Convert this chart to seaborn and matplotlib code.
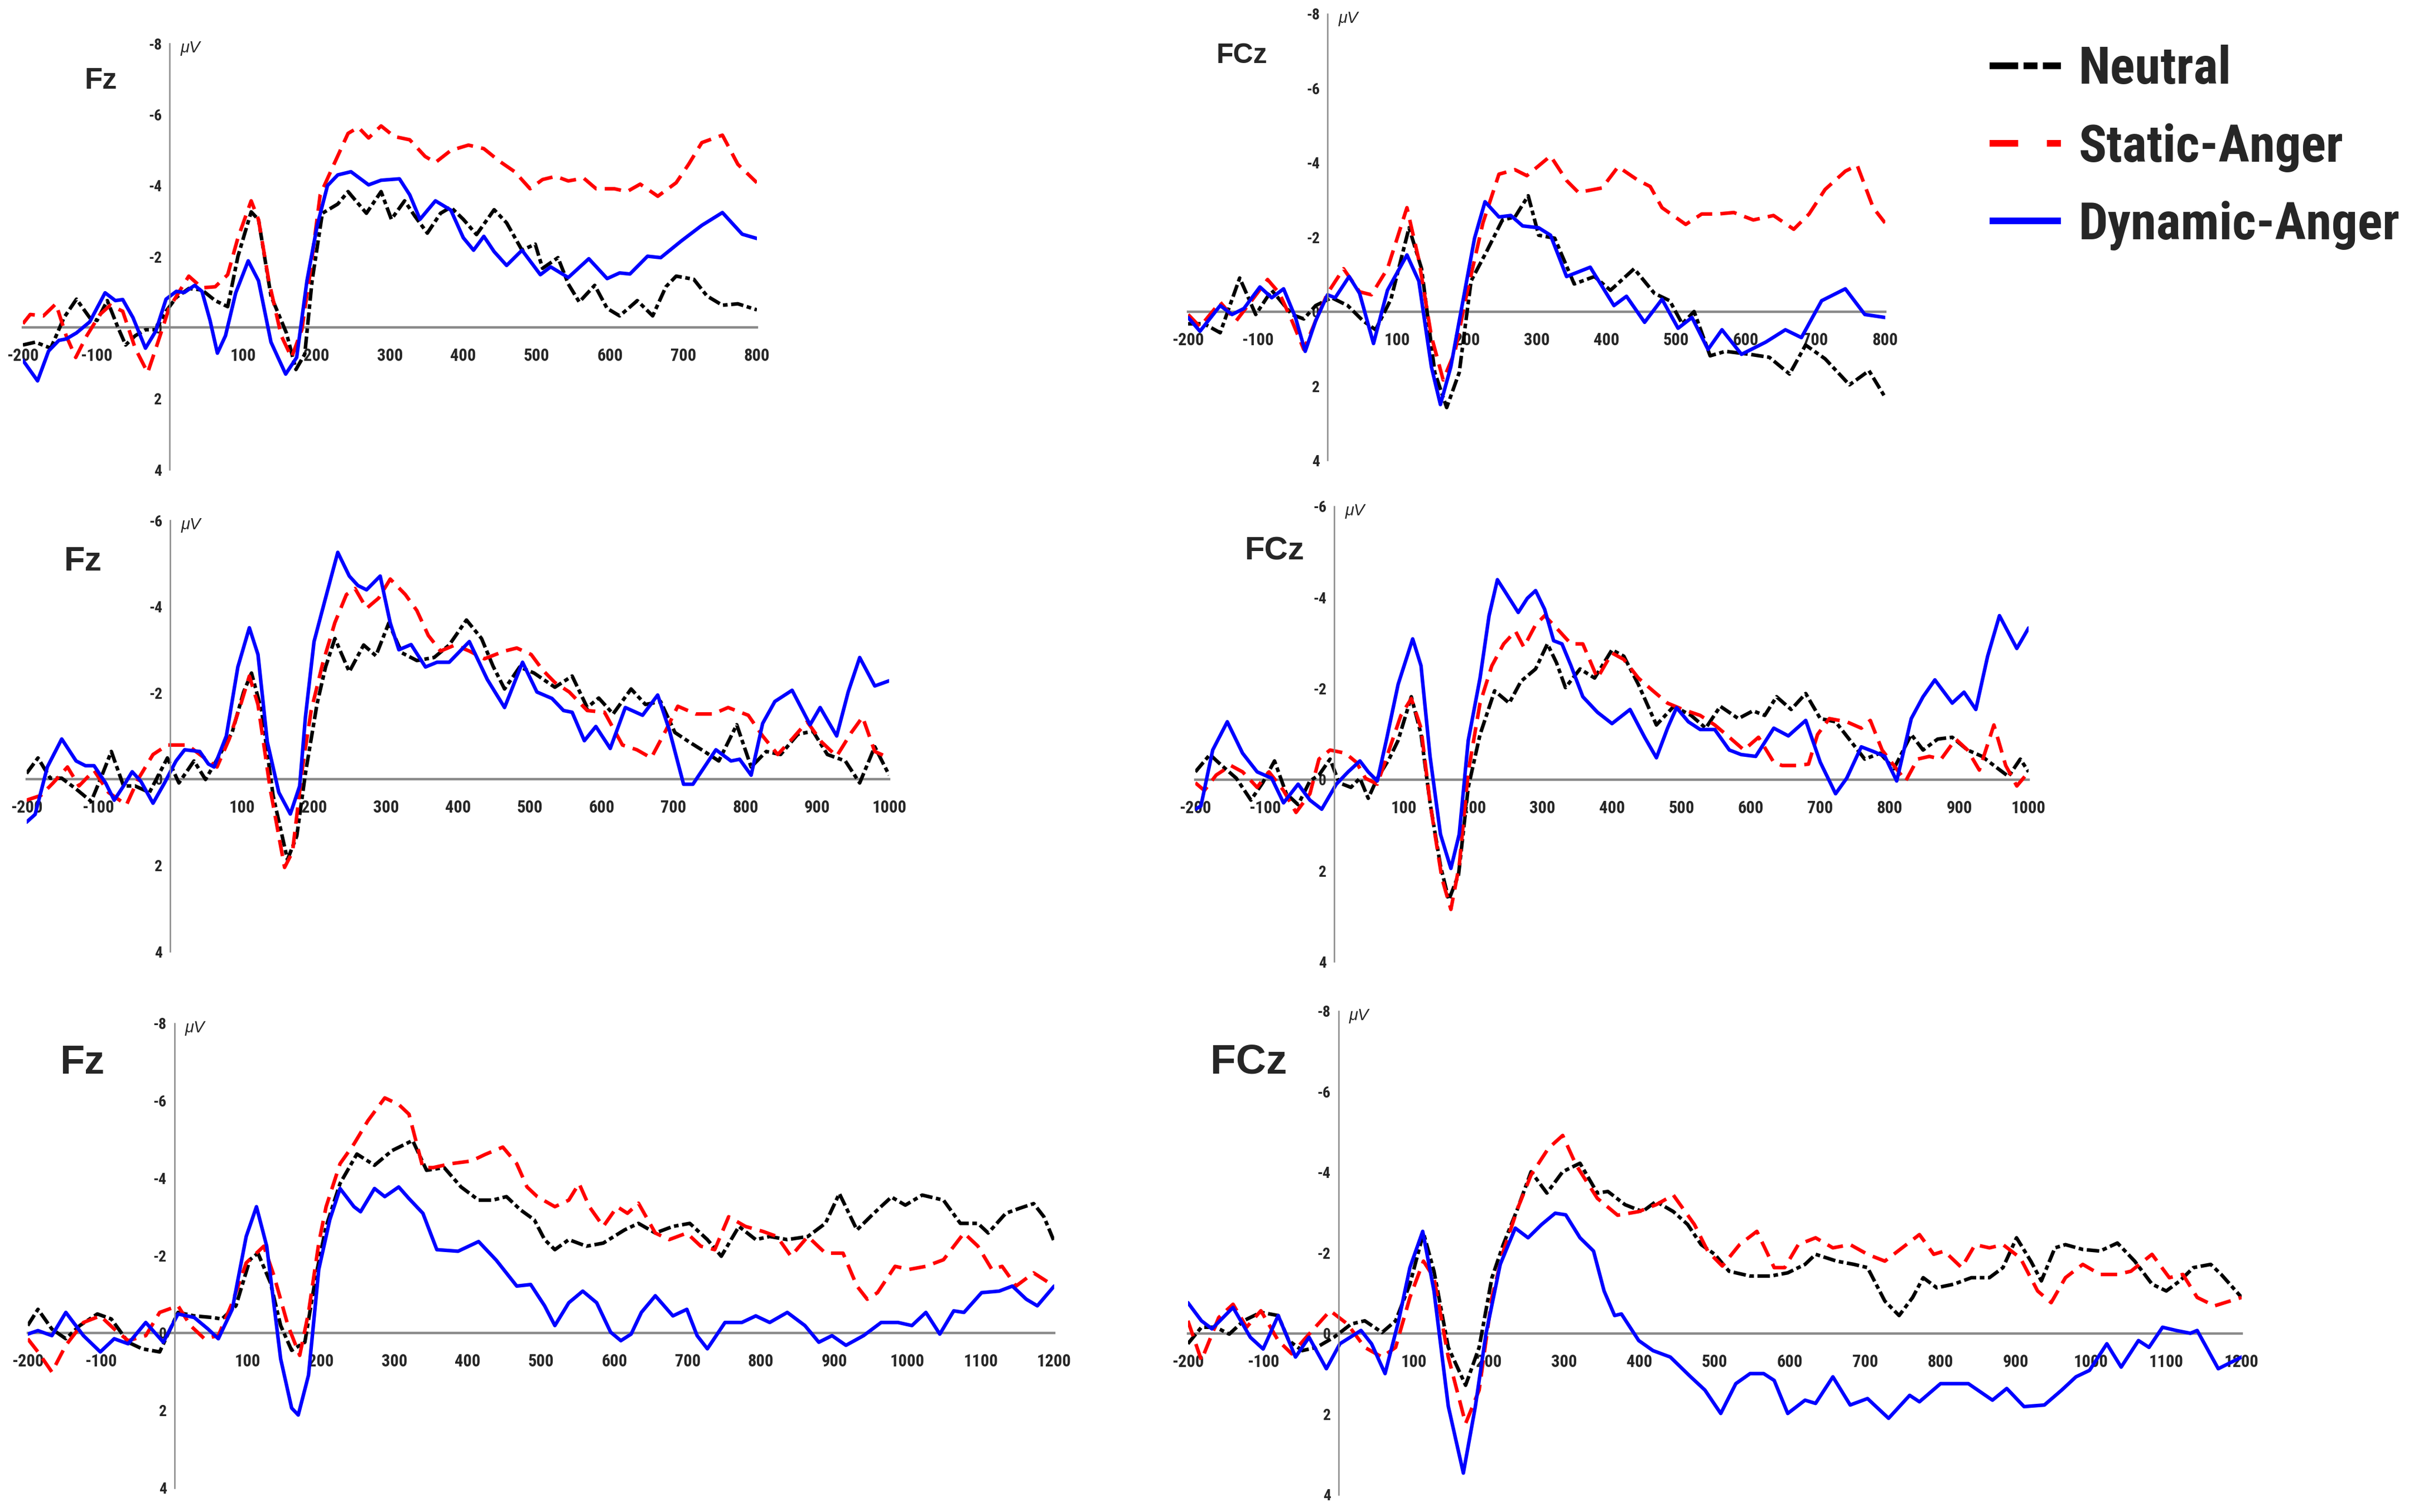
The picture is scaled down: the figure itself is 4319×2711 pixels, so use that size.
import matplotlib
matplotlib.use("Agg")
import matplotlib.pyplot as plt
from matplotlib import font_manager
from matplotlib.lines import Line2D
import seaborn as sns
import pandas as pd

# ERP waveforms: (time in ms, amplitude in microvolts)
# top row, Fz
FZ1_NEUTRAL = [(-200,0.49),(-183,0.41),(-162,0.58),(-144,-0.28),(-127,-0.80),(-109,-0.28),(-99,-0.20),(-85,-0.76),(-71,-0.03),(-60,0.49),(-47,0.23),(-33,0.06),(-19,0.06),(-5,-0.46),(9,-0.85),(26,-1.10),(44,-1.06),(62,-0.76),(79,-0.59),(93,-2.01),(111,-3.26),(121,-3.04),(138,-0.89),(159,0.15),(172,1.18),(184,0.75),(194,-1.32),(208,-3.22),(229,-3.48),(243,-3.83),(268,-3.22),(288,-3.83),(302,-3.05),(320,-3.57),(334,-3.14),(351,-2.66),(369,-3.22),(383,-3.39),(400,-3.05),(418,-2.62),(442,-3.32),(459,-2.95),(480,-2.18),(498,-2.35),(508,-1.67),(529,-1.97),(543,-1.23),(558,-0.72),(579,-1.19),(596,-0.54),(613,-0.33),(637,-0.76),(658,-0.33),(676,-1.15),(690,-1.45),(714,-1.36),(732,-0.89),(753,-0.63),(774,-0.67),(800,-0.50)]
FZ1_STATIC = [(-200,-0.11),(-190,-0.37),(-172,-0.33),(-155,-0.67),(-141,0.23),(-128,0.84),(-113,0.23),(-95,-0.37),(-81,-0.63),(-64,-0.46),(-47,0.58),(-30,1.27),(-16,0.41),(-1,-0.54),(12,-0.98),(26,-1.45),(44,-1.12),(62,-1.15),(79,-1.49),(93,-2.53),(111,-3.57),(121,-3.04),(135,-1.32),(152,0.23),(166,0.84),(180,0.06),(191,-1.49),(205,-3.74),(222,-4.52),(243,-5.47),(257,-5.64),(271,-5.34),(288,-5.68),(306,-5.38),(327,-5.29),(348,-4.82),(362,-4.65),(383,-4.99),(407,-5.14),(428,-5.04),(449,-4.69),(470,-4.39),(491,-3.91),(508,-4.17),(526,-4.26),(543,-4.13),(564,-4.21),(581,-3.91),(606,-3.91),(623,-3.83),(641,-4.04),(665,-3.70),(690,-4.08),(707,-4.60),(725,-5.21),(753,-5.42),(774,-4.60),(800,-4.08)]
FZ1_DYNAMIC = [(-200,0.92),(-180,1.50),(-165,0.66),(-151,0.36),(-141,0.32),(-127,0.15),(-109,-0.16),(-88,-0.98),(-74,-0.76),(-64,-0.79),(-50,-0.28),(-33,0.58),(-19,0.10),(-5,-0.80),(9,-1.02),(20,-0.99),(34,-1.19),(44,-1.02),(55,-0.20),(65,0.72),(76,0.23),(90,-0.98),(107,-1.88),(121,-1.32),(138,0.41),(158,1.31),(173,0.84),(187,-1.32),(201,-2.88),(215,-4.00),(229,-4.30),(247,-4.39),(271,-4.02),(288,-4.15),(313,-4.19),(327,-3.74),(341,-3.05),(362,-3.57),(383,-3.31),(400,-2.53),(414,-2.18),(428,-2.57),(442,-2.14),(459,-1.75),(480,-2.18),(505,-1.49),(519,-1.71),(543,-1.41),(571,-1.94),(596,-1.38),(613,-1.54),(627,-1.51),(651,-2.01),(669,-1.97),(697,-2.44),(725,-2.88),(753,-3.24),(780,-2.63),(800,-2.51)]

# top row, FCz
FCZ1_NEUTRAL = [(-200,0.33),(-177,0.33),(-154,0.57),(-126,-0.90),(-103,0.08),(-80,-0.57),(-51,0.08),(-34,0.20),(-17,-0.16),(6,-0.37),(29,-0.16),(51,0.25),(69,0.49),(91,-0.33),(117,-2.25),(135,-1.15),(154,1.64),(171,2.58),(189,1.64),(206,-0.82),(229,-1.64),(251,-2.46),(269,-2.54),(288,-3.11),(303,-2.05),(326,-1.97),(354,-0.74),(383,-0.94),(406,-0.57),(440,-1.15),(469,-0.49),(491,-0.29),(509,0.33),(526,0.00),(549,1.19),(571,1.07),(606,1.15),(634,1.23),(663,1.68),(686,0.90),(714,1.27),(749,1.97),(777,1.59),(800,2.30)]
FCZ1_STATIC = [(-200,0.08),(-183,0.41),(-154,-0.25),(-131,0.25),(-109,-0.29),(-86,-0.86),(-69,-0.49),(-51,0.25),(-34,1.02),(-17,0.25),(0,-0.49),(23,-1.15),(46,-0.53),(63,-0.45),(86,-1.15),(114,-2.79),(131,-1.39),(149,0.66),(166,1.84),(183,1.07),(200,-0.49),(223,-2.38),(246,-3.69),(269,-3.81),(286,-3.65),(320,-4.18),(343,-3.52),(360,-3.20),(394,-3.32),(417,-3.89),(446,-3.52),(463,-3.36),(480,-2.79),(514,-2.34),(537,-2.62),(560,-2.62),(583,-2.66),(611,-2.46),(640,-2.58),(669,-2.21),(691,-2.62),(714,-3.28),(743,-3.77),(760,-3.93),(783,-2.79),(800,-2.38)]
FCZ1_DYNAMIC = [(-200,0.16),(-183,0.53),(-154,-0.16),(-137,0.08),(-120,-0.08),(-97,-0.66),(-80,-0.37),(-63,-0.61),(-46,0.16),(-32,1.07),(-17,0.25),(0,-0.45),(11,-0.37),(31,-0.94),(46,-0.49),(66,0.86),(86,-0.57),(114,-1.52),(131,-0.82),(149,1.48),(162,2.50),(177,1.48),(194,-0.25),(211,-1.97),(226,-2.95),(246,-2.54),(263,-2.58),(280,-2.30),(303,-2.25),(320,-2.05),(343,-0.94),(377,-1.19),(411,-0.16),(429,-0.41),(455,0.29),(480,-0.33),(503,0.45),(523,0.16),(546,1.02),(566,0.49),(594,1.15),(629,0.82),(657,0.49),(680,0.70),(709,-0.29),(743,-0.61),(771,0.08),(800,0.16)]

# middle row, Fz
FZ2_NEUTRAL = [(-200,-0.13),(-184,-0.49),(-167,-0.02),(-151,-0.02),(-131,0.23),(-110,0.52),(-94,-0.13),(-82,-0.64),(-65,0.16),(-49,0.16),(-29,0.31),(-4,-0.49),(12,0.09),(33,-0.42),(49,0.01),(69,-0.57),(86,-1.08),(102,-2.02),(113,-2.46),(127,-1.59),(143,0.38),(163,1.87),(176,1.32),(188,-0.13),(204,-1.73),(216,-2.60),(229,-3.26),(249,-2.49),(269,-3.11),(286,-2.86),(304,-3.62),(322,-2.93),(343,-2.75),(367,-2.82),(388,-3.11),(412,-3.69),(433,-3.26),(449,-2.62),(465,-2.09),(486,-2.60),(506,-2.46),(535,-2.13),(559,-2.39),(580,-1.66),(596,-1.88),(616,-1.51),(641,-2.09),(661,-1.73),(682,-1.80),(702,-1.08),(722,-0.86),(743,-0.64),(763,-0.42),(788,-1.26),(808,-0.28),(829,-0.64),(849,-0.57),(873,-1.04),(894,-1.11),(914,-0.57),(939,-0.42),(959,0.09),(980,-0.75),(1000,-0.09)]
FZ2_STATIC = [(-200,0.49),(-180,0.38),(-163,0.09),(-143,-0.28),(-127,0.16),(-106,-0.20),(-86,0.31),(-61,0.60),(-45,0.01),(-24,-0.57),(-4,-0.79),(24,-0.79),(41,-0.57),(65,-0.28),(82,-0.93),(98,-1.73),(110,-2.39),(122,-1.73),(139,0.23),(159,2.05),(170,1.69),(184,-0.28),(196,-1.59),(212,-2.68),(229,-3.63),(245,-4.28),(257,-4.42),(273,-3.96),(290,-4.20),(306,-4.64),(327,-4.28),(343,-3.91),(359,-3.33),(376,-2.97),(396,-3.11),(416,-2.97),(437,-2.79),(465,-2.97),(482,-3.04),(502,-2.89),(518,-2.53),(535,-2.24),(555,-2.02),(580,-1.59),(604,-1.55),(629,-0.79),(649,-0.68),(669,-0.49),(690,-1.15),(706,-1.69),(731,-1.51),(755,-1.51),(776,-1.66),(804,-1.48),(824,-1.00),(845,-0.57),(865,-0.93),(886,-1.33),(906,-0.86),(927,-0.53),(947,-1.07),(963,-1.44),(980,-0.64),(1000,-0.49)]
FZ2_DYNAMIC = [(-200,1.00),(-188,0.82),(-171,-0.28),(-151,-0.93),(-131,-0.42),(-118,-0.31),(-106,-0.31),(-90,0.09),(-78,0.49),(-65,0.16),(-53,-0.17),(-41,0.05),(-24,0.56),(-8,0.09),(8,-0.42),(20,-0.68),(41,-0.64),(53,-0.35),(61,-0.28),(78,-1.00),(94,-2.60),(110,-3.51),(122,-2.89),(135,-0.86),(151,0.31),(167,0.81),(180,0.16),(188,-1.44),(200,-3.19),(216,-4.20),(233,-5.26),(249,-4.71),(261,-4.49),(273,-4.39),(292,-4.71),(306,-3.62),(318,-3.00),(335,-3.12),(355,-2.60),(371,-2.71),(388,-2.71),(416,-3.19),(441,-2.31),(465,-1.66),(490,-2.71),(510,-2.02),(531,-1.87),(547,-1.59),(559,-1.55),(576,-0.89),(592,-1.22),(612,-0.71),(633,-1.66),(657,-1.48),(678,-1.95),(694,-1.15),(714,0.12),(727,0.12),(743,-0.28),(759,-0.68),(780,-0.42),(792,-0.46),(808,-0.09),(824,-1.29),(841,-1.80),(865,-2.06),(890,-1.26),(904,-1.66),(927,-1.00),(943,-2.02),(959,-2.82),(980,-2.16),(1000,-2.28)]

# middle row, FCz
FCZ2_NEUTRAL = [(-200,-0.17),(-179,-0.55),(-162,-0.31),(-141,-0.03),(-120,0.45),(-103,0.07),(-86,-0.41),(-69,0.31),(-52,0.55),(-35,0.03),(-22,-0.10),(-6,-0.45),(7,0.07),(24,0.17),(37,-0.03),(49,0.41),(62,-0.03),(79,-0.45),(92,-0.86),(111,-1.82),(125,-1.00),(138,0.51),(153,1.89),(165,2.64),(179,2.09),(193,0.17),(210,-0.99),(231,-1.95),(252,-1.68),(269,-2.16),(290,-2.43),(307,-2.98),(320,-2.57),(333,-2.02),(354,-2.43),(375,-2.23),(400,-2.85),(417,-2.71),(438,-2.09),(464,-1.20),(489,-1.61),(514,-1.41),(535,-1.13),(556,-1.61),(582,-1.34),(603,-1.51),(620,-1.41),(637,-1.82),(658,-1.54),(679,-1.89),(700,-1.34),(722,-1.27),(743,-0.86),(764,-0.45),(786,-0.58),(806,-0.24),(831,-0.99),(848,-0.65),(869,-0.89),(890,-0.93),(912,-0.65),(933,-0.51),(950,-0.31),(971,-0.07),(988,-0.45),(1000,-0.17)]
FCZ2_STATIC = [(-200,0.07),(-187,0.24),(-170,-0.10),(-149,-0.31),(-132,-0.17),(-111,0.17),(-94,-0.17),(-73,0.24),(-55,0.72),(-35,0.31),(-22,-0.45),(-6,-0.65),(16,-0.58),(32,-0.38),(45,-0.03),(62,0.10),(79,-0.65),(96,-1.41),(111,-1.78),(125,-1.13),(138,0.51),(155,2.16),(168,2.85),(180,1.89),(193,-0.17),(210,-1.68),(227,-2.50),(244,-2.98),(261,-3.26),(273,-2.91),(290,-3.40),(303,-3.60),(320,-3.33),(341,-2.98),(358,-2.98),(379,-2.23),(400,-2.78),(417,-2.64),(438,-2.23),(459,-1.95),(480,-1.68),(502,-1.54),(527,-1.41),(548,-1.20),(569,-0.93),(590,-0.65),(611,-0.93),(633,-0.38),(645,-0.31),(666,-0.31),(683,-0.34),(696,-0.99),(713,-1.34),(738,-1.27),(759,-1.13),(772,-1.30),(789,-0.65),(806,-0.31),(823,0.03),(840,-0.45),(857,-0.51),(874,-0.45),(895,-0.89),(912,-0.65),(929,-0.21),(950,-1.20),(967,-0.31),(983,0.14),(1000,-0.17)]
FCZ2_DYNAMIC = [(-200,0.65),(-192,0.58),(-175,-0.65),(-154,-1.27),(-132,-0.58),(-111,-0.17),(-90,-0.03),(-73,0.51),(-52,0.10),(-35,0.45),(-18,0.65),(3,0.10),(20,-0.17),(37,-0.41),(49,-0.17),(62,0.03),(75,-0.86),(92,-2.09),(113,-3.09),(125,-2.50),(138,-0.51),(153,1.20),(168,1.95),(180,1.20),(193,-0.86),(210,-2.23),(223,-3.60),(235,-4.39),(248,-4.08),(265,-3.67),(278,-3.98),(290,-4.15),(303,-3.74),(316,-3.05),(328,-2.98),(341,-2.50),(358,-1.82),(379,-1.48),(400,-1.23),(426,-1.54),(447,-0.93),(464,-0.48),(480,-1.13),(493,-1.58),(510,-1.27),(527,-1.10),(548,-1.10),(569,-0.65),(586,-0.55),(607,-0.51),(633,-1.13),(654,-0.96),(679,-1.30),(700,-0.38),(722,0.31),(738,-0.03),(759,-0.72),(776,-0.62),(793,-0.51),(810,0.03),(831,-1.34),(848,-1.82),(865,-2.19),(890,-1.68),(907,-1.92),(924,-1.54),(941,-2.71),(958,-3.60),(983,-2.88),(1000,-3.33)]

# bottom row, Fz
FZ3_NEUTRAL = [(-200,-0.19),(-186,-0.61),(-167,-0.10),(-148,0.15),(-129,-0.19),(-105,-0.49),(-86,-0.36),(-63,0.24),(-44,0.41),(-20,0.49),(5,-0.53),(27,-0.44),(51,-0.40),(65,-0.36),(84,-0.70),(103,-1.89),(114,-2.06),(131,-1.30),(145,-0.19),(160,0.45),(178,0.24),(193,-1.47),(207,-2.75),(226,-3.86),(249,-4.62),(273,-4.33),(297,-4.71),(325,-4.97),(344,-4.20),(368,-4.27),(391,-3.77),(415,-3.43),(434,-3.43),(453,-3.52),(472,-3.18),(491,-2.92),(505,-2.41),(519,-2.15),(538,-2.41),(562,-2.24),(585,-2.32),(614,-2.66),(633,-2.83),(656,-2.58),(680,-2.75),(703,-2.83),(727,-2.41),(746,-1.98),(770,-2.75),(793,-2.41),(812,-2.49),(836,-2.41),(864,-2.49),(888,-2.83),(907,-3.60),(931,-2.66),(954,-3.09),(978,-3.51),(997,-3.30),(1020,-3.56),(1049,-3.43),(1072,-2.83),(1096,-2.83),(1110,-2.58),(1134,-3.09),(1153,-3.22),(1172,-3.34),(1186,-3.00),(1200,-2.36)]
FZ3_STATIC = [(-200,0.15),(-186,0.49),(-167,1.01),(-148,0.32),(-124,-0.27),(-101,-0.44),(-82,-0.10),(-63,0.20),(-39,0.07),(-20,-0.53),(5,-0.70),(22,-0.19),(41,0.15),(60,0.07),(79,-0.78),(98,-1.81),(122,-2.24),(136,-1.47),(155,-0.19),(171,0.58),(183,-0.53),(197,-2.32),(207,-3.26),(226,-4.37),(245,-4.88),(264,-5.48),(287,-6.07),(306,-5.90),(320,-5.65),(339,-4.27),(353,-4.27),(377,-4.37),(405,-4.44),(424,-4.61),(448,-4.80),(467,-4.37),(481,-3.77),(495,-3.52),(519,-3.26),(538,-3.43),(552,-3.86),(566,-3.26),(585,-2.75),(604,-3.26),(618,-3.09),(633,-3.35),(656,-2.58),(675,-2.41),(699,-2.58),(718,-2.24),(737,-2.15),(756,-3.00),(779,-2.75),(803,-2.62),(822,-2.49),(841,-1.98),(864,-2.49),(888,-2.06),(912,-2.06),(931,-1.21),(945,-0.87),(959,-1.04),(983,-1.72),(1002,-1.64),(1025,-1.72),(1049,-1.89),(1077,-2.58),(1096,-2.24),(1115,-1.64),(1129,-1.72),(1148,-1.21),(1172,-1.55),(1200,-1.21)]
FZ3_DYNAMIC = [(-200,0.03),(-186,-0.06),(-167,0.07),(-148,-0.53),(-124,0.07),(-101,0.49),(-82,0.15),(-63,0.28),(-39,-0.27),(-15,0.24),(5,-0.49),(27,-0.40),(46,-0.10),(60,0.15),(79,-0.61),(98,-2.49),(112,-3.26),(126,-2.24),(145,0.67),(160,1.94),(169,2.12),(183,1.09),(197,-1.64),(212,-2.92),(226,-3.73),(245,-3.26),(254,-3.13),(273,-3.73),(287,-3.52),(306,-3.77),(320,-3.47),(339,-3.09),(358,-2.15),(387,-2.11),(415,-2.36),(439,-1.88),(467,-1.21),(486,-1.25),(505,-0.70),(519,-0.19),(538,-0.78),(557,-1.08),(576,-0.78),(595,-0.02),(609,0.20),(623,0.03),(637,-0.53),(656,-0.96),(680,-0.44),(699,-0.61),(713,0.07),(727,0.41),(751,-0.27),(774,-0.27),(793,-0.44),(812,-0.27),(836,-0.53),(860,-0.19),(879,0.24),(897,0.07),(916,0.32),(940,0.07),(964,-0.27),(987,-0.27),(1006,-0.19),(1025,-0.53),(1044,0.03),(1063,-0.57),(1077,-0.53),(1101,-1.04),(1125,-1.08),(1143,-1.21),(1162,-0.87),(1177,-0.70),(1200,-1.21)]

# bottom row, FCz
FCZ3_NEUTRAL = [(-200,0.26),(-182,-0.15),(-163,-0.15),(-145,0.02),(-126,-0.31),(-103,-0.52),(-80,-0.44),(-66,0.18),(-48,0.43),(-29,0.35),(-6,0.10),(17,-0.23),(35,-0.31),(58,-0.02),(76,-0.31),(95,-1.22),(113,-2.49),(127,-1.54),(146,0.35),(169,1.29),(187,0.35),(204,-1.38),(219,-2.20),(238,-3.09),(256,-4.01),(277,-3.48),(298,-4.01),(321,-4.22),(344,-3.48),(358,-3.52),(381,-3.19),(404,-3.02),(422,-3.27),(445,-3.02),(464,-2.70),(482,-2.20),(500,-1.96),(519,-1.54),(547,-1.42),(574,-1.42),(597,-1.50),(620,-1.71),(634,-1.96),(662,-1.79),(685,-1.71),(703,-1.63),(726,-0.80),(745,-0.44),(763,-0.89),(777,-1.38),(795,-1.13),(818,-1.22),(841,-1.38),(865,-1.38),(883,-1.63),(901,-2.37),(920,-1.79),(934,-1.30),(952,-2.12),(966,-2.20),(989,-2.08),(1012,-2.04),(1035,-2.24),(1058,-1.79),(1081,-1.22),(1100,-1.05),(1118,-1.30),(1136,-1.63),(1159,-1.71),(1173,-1.46),(1200,-0.89)]
FCZ3_STATIC = [(-200,-0.31),(-182,0.67),(-159,-0.39),(-140,-0.72),(-122,-0.15),(-103,-0.56),(-80,0.18),(-62,0.51),(-39,0.02),(-11,-0.56),(12,-0.23),(35,0.35),(58,0.59),(76,0.35),(95,-0.89),(113,-1.79),(127,-1.38),(146,0.59),(169,2.24),(187,1.41),(204,-0.89),(219,-2.03),(238,-3.09),(256,-3.93),(279,-4.59),(298,-4.91),(316,-4.17),(344,-3.35),(371,-2.93),(399,-3.02),(422,-3.19),(445,-3.43),(473,-2.70),(491,-2.03),(510,-1.67),(533,-2.20),(556,-2.53),(579,-1.63),(593,-1.63),(611,-2.20),(634,-2.37),(657,-2.12),(680,-2.20),(703,-1.96),(726,-1.79),(749,-2.12),(772,-2.45),(791,-1.96),(805,-2.04),(828,-1.63),(846,-2.20),(865,-2.12),(883,-2.20),(906,-1.87),(929,-1.05),(947,-0.76),(966,-1.38),(989,-1.71),(1012,-1.46),(1035,-1.46),(1053,-1.54),(1081,-1.96),(1104,-1.38),(1122,-1.46),(1141,-0.89),(1164,-0.68),(1200,-0.89)]
FCZ3_DYNAMIC = [(-200,-0.76),(-182,-0.31),(-168,-0.11),(-140,-0.64),(-117,0.10),(-100,0.39),(-80,-0.44),(-57,0.59),(-39,0.10),(-16,0.88),(2,0.26),(30,-0.07),(44,0.26),(62,1.00),(80,-0.31),(95,-1.63),(112,-2.53),(127,-1.05),(146,1.81),(166,3.47),(182,1.81),(196,0.02),(215,-1.71),(235,-2.61),(252,-2.37),(270,-2.70),(288,-2.98),(302,-2.94),(321,-2.37),(339,-2.04),(353,-1.05),(367,-0.44),(376,-0.48),(399,0.18),(418,0.43),(441,0.59),(468,1.08),(487,1.41),(508,1.99),(528,1.25),(547,1.00),(565,1.00),(579,1.17),(597,1.99),(620,1.66),(634,1.74),(657,1.08),(680,1.78),(703,1.62),(731,2.11),(759,1.54),(772,1.70),(800,1.25),(837,1.25),(869,1.66),(888,1.37),(911,1.82),(938,1.78),(961,1.41),(980,1.08),(998,0.92),(1021,0.26),(1040,0.84),(1063,0.18),(1077,0.35),(1095,-0.15),(1113,-0.07),(1132,0.00),(1141,-0.07),(1169,0.88),(1200,0.59)]

CONDITIONS = ["Neutral", "Static-Anger", "Dynamic-Anger"]
COLORS = {"Neutral": "#000000", "Static-Anger": "#ff0000", "Dynamic-Anger": "#0000ff"}
DASHES = {"Neutral": (3.5, 1.0, 1.3, 1.0), "Static-Anger": (4.6, 2.3), "Dynamic-Anger": ""}

sns.set_theme(style="white")
avail = {f.name for f in font_manager.fontManager.ttflist}
NARROW = "Liberation Sans"
for cand in ("Liberation Sans Narrow", "Roboto Condensed", "Arial Narrow"):
    if cand in avail:
        NARROW = cand
        break
plt.rcParams["font.family"] = ["Liberation Sans", "DejaVu Sans"]

# axes rectangles in figure fraction, label position / size
panels = [
    dict(series=(FZ1_NEUTRAL, FZ1_STATIC, FZ1_DYNAMIC), name="Fz", xmax=800, ytop=-8,
         rect=[0.0095, 0.6894, 0.3047, 0.2818], label_xy=(0.0419, 0.9465), label_size=19),
    dict(series=(FCZ1_NEUTRAL, FCZ1_STATIC, FCZ1_DYNAMIC), name="FCz", xmax=800, ytop=-8,
         rect=[0.4932, 0.6955, 0.2893, 0.2954], label_xy=(0.5154, 0.9631), label_size=18),
    dict(series=(FZ2_NEUTRAL, FZ2_STATIC, FZ2_DYNAMIC), name="Fz", xmax=1000, ytop=-6,
         rect=[0.0110, 0.3707, 0.3581, 0.2851], label_xy=(0.0345, 0.6282), label_size=22),
    dict(series=(FCZ2_NEUTRAL, FCZ2_STATIC, FCZ2_DYNAMIC), name="FCz", xmax=1000, ytop=-6,
         rect=[0.4962, 0.3639, 0.3459, 0.3012], label_xy=(0.5290, 0.6352), label_size=21),
    dict(series=(FZ3_NEUTRAL, FZ3_STATIC, FZ3_DYNAMIC), name="Fz", xmax=1200, ytop=-8,
         rect=[0.0115, 0.0160, 0.4261, 0.3073], label_xy=(0.0340, 0.2970), label_size=26),
    dict(series=(FCZ3_NEUTRAL, FCZ3_STATIC, FCZ3_DYNAMIC), name="FCz", xmax=1200, ytop=-8,
         rect=[0.4931, 0.0116, 0.4374, 0.3198], label_xy=(0.5184, 0.2973), label_size=27),
]

fig = plt.figure(figsize=(21.595, 13.555), dpi=200)
fig.patch.set_facecolor("white")

for p in panels:
    rows = []
    for cond, pts in zip(CONDITIONS, p["series"]):
        for t, v in pts:
            rows.append({"time": t, "amp": v, "condition": cond})
    df = pd.DataFrame(rows)

    ax = fig.add_axes(p["rect"])
    ax.patch.set_alpha(0)
    sns.lineplot(data=df, x="time", y="amp", hue="condition", style="condition",
                 hue_order=CONDITIONS, style_order=CONDITIONS, palette=COLORS,
                 dashes=DASHES, estimator=None, linewidth=2.3, legend=False, ax=ax,
                 solid_joinstyle="round", dash_joinstyle="round")

    ax.set_xlim(-200, p["xmax"])
    ax.set_ylim(4, p["ytop"])
    ax.set_xlabel("")
    ax.set_ylabel("")
    for side in ("top", "right"):
        ax.spines[side].set_visible(False)
    ax.spines["left"].set_position(("data", 0))
    ax.spines["bottom"].set_position(("data", 0))
    ax.spines["bottom"].set_color("#8a8a8a")
    ax.spines["bottom"].set_linewidth(1.6)
    ax.spines["left"].set_color("#8a8a8a")
    ax.spines["left"].set_linewidth(0.9)
    ax.spines["bottom"].set_zorder(0.5)

    xt = [t for t in range(-200, p["xmax"] + 1, 100) if t != 0]
    ax.set_xticks(xt)
    ax.set_xticklabels([str(t) for t in xt], fontfamily=NARROW, fontweight="bold", fontsize=11)
    yt = list(range(p["ytop"], 5, 2))
    ax.set_yticks(yt)
    ax.set_yticklabels([str(v) for v in yt], fontfamily=NARROW, fontweight="bold", fontsize=10)
    ax.tick_params(axis="x", direction="out", length=3, width=0.9, color="#8a8a8a", pad=10)
    ax.tick_params(axis="y", direction="out", length=3, width=0.9, color="#8a8a8a", pad=2)

    ax.annotate("\u03bcV", xy=(0, p["ytop"]), xycoords="data", xytext=(7, -3),
                textcoords="offset points", ha="left", va="center",
                fontsize=10.5, fontstyle="italic", family=["Liberation Sans", "DejaVu Sans"])
    fig.text(p["label_xy"][0], p["label_xy"][1], p["name"], ha="center", va="center",
             fontsize=p["label_size"], fontweight="bold")

legend_dashes = {"Neutral": (4.3, 0.8, 2.1, 0.8), "Static-Anger": (4.3, 4.3)}
handles = []
for c in CONDITIONS:
    h = Line2D([], [], color=COLORS[c], lw=4.3, solid_capstyle="butt", dash_capstyle="butt")
    if c in legend_dashes:
        h.set_dashes(legend_dashes[c])
    handles.append(h)
fig.legend(handles, CONDITIONS, loc="upper left", bbox_to_anchor=(0.8173, 0.9841),
           borderaxespad=0, frameon=False, handlelength=1.37, handletextpad=0.34,
           labelspacing=0.54, borderpad=0.4,
           prop={"family": NARROW, "weight": "bold", "size": 33.5})

fig.savefig("out.png", dpi=200, facecolor="white")
